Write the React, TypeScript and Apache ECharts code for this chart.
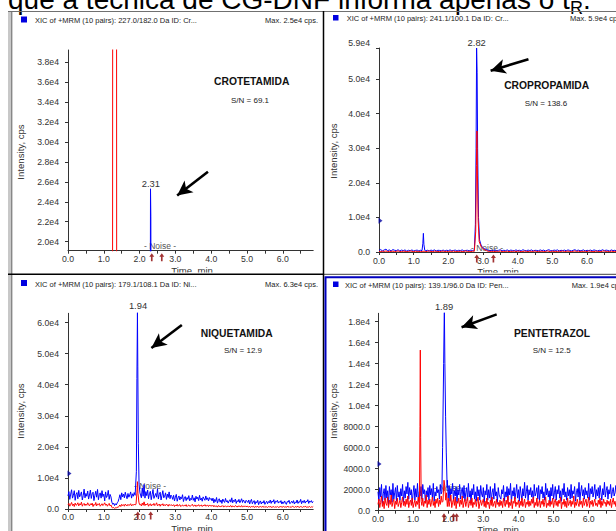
import React, { useEffect, useRef } from 'react';
import * as echarts from 'echarts';

// ---------- data ----------
const STEP_TR = 0.05; // sampling interval of the panel-2 traces (min)
const STEP_FINE = 0.025; // sampling interval of the panel-3/4 traces (min)
const TIME_MAX = 6.85;
const TIME_LABELS = [0, 1, 2, 3, 4, 5, 6];
const TIME_TICKS = [0, 0.5, 1, 1.5, 2, 2.5, 3, 3.5, 4, 4.5, 5, 5.5, 6, 6.5];

// Panel 1 – CROTETAMIDA
const TL_Y_RANGE = [19100, 39200];
const TL_Y_LABELS = [20000, 22000, 24000, 26000, 28000, 30000, 32000, 34000, 36000, 38000];
const TL_BLUE: number[][] = [[0, 2000], [2.29, 2000], [2.297, 11000], [2.305, 25300], [2.314, 22500], [2.322, 10000], [2.36, 2500], [6.85, 2000]];
const TL_RED: number[][] = [[0, 3000], [1.24, 3000], [1.245, 15000], [1.25, 60000], [1.3, 95000], [1.355, 60000], [1.36, 15000], [1.4, 4000], [6.85, 3000]];
const TL_MARKS = [2.34, 2.62];
const TL_ARROW = [[3.91, 27000], [3.05, 24620]];

// Panel 2 – CROPROPAMIDA
const TR_Y_RANGE = [0, 59000];
const TR_Y_LABELS = [0, 10000, 20000, 30000, 40000, 50000, 59000];
const TR_BLUE_NOISE = [
  500, 700, 300, 600, 800, 400, 600, 300, 700, 500, 400, 650, 300, 550, 400, 600, 250, 500, 350, 600, 300, 450, 550, 300, 500,
  400, 600, 350, 500, 300, 550, 400, 600, 300, 500, 450, 350, 550,
  300, 500, 400, 600, 350, 450, 550, 300, 500, 400, 600, 300, 450, 500, 350, 550, 400, 500,
  500, 600, 700, 800, 600, 500, 450, 600, 400, 500,
  400, 600, 300, 500, 650, 350, 500, 400, 600, 300, 550, 450, 350, 600, 400, 500, 300, 650, 450, 350,
  550, 400, 600, 300, 500, 450, 350, 600, 400, 550, 300, 500, 650, 400, 350, 550, 450, 600, 300, 500,
  400, 550, 350, 600, 450, 300, 500, 650, 400, 550, 350, 450, 600, 300, 500, 400, 550, 350, 600, 450,
  300, 500, 400, 650, 350, 550, 450, 300, 600, 400, 500, 350,
];
const TR_RED_NOISE = [
  200, 100, 250, 150, 300, 100, 200, 150, 250, 100, 200, 300, 150, 100, 250, 200, 100, 150, 300, 200, 100, 250, 150, 200, 100,
  150, 250, 100, 200, 300, 150, 100, 250, 200, 150, 100, 200, 250,
  150, 200, 100, 250, 150, 300, 100, 200, 150, 250, 100, 200, 300, 150, 200, 100, 250, 200,
  300, 400, 500, 600, 500, 400, 300, 250, 200, 150,
  200, 100, 250, 150, 300, 100, 200, 150, 250, 100, 200, 150, 300, 100, 250, 200, 100, 150, 250, 200,
  100, 250, 150, 200, 300, 100, 200, 150, 250, 100, 150, 300, 200, 100, 250, 150, 200, 100, 250, 150,
  300, 100, 200, 250, 150, 100, 200, 300, 150, 250, 100, 200, 150, 250, 100, 300, 200, 150, 100, 250,
  200, 150, 100, 250, 300, 150, 200, 100, 250, 150, 200, 100,
];
const TR_BLUE_PEAKS: number[][][] = [
  [[1.24, 400], [1.265, 2500], [1.28, 5400], [1.295, 2200], [1.32, 500]],
  [[2.75, 600], [2.78, 8000], [2.8, 30000], [2.815, 59000], [2.83, 52000], [2.845, 30000], [2.87, 10000], [2.9, 3500], [2.95, 1800], [3.02, 1000], [3.1, 700], [3.15, 500]],
];
const TR_RED_PEAKS: number[][][] = [
  [[2.76, 300], [2.79, 6000], [2.81, 25000], [2.825, 35000], [2.84, 22000], [2.86, 9000], [2.89, 3000], [2.95, 1500], [3.02, 800], [3.1, 400], [3.15, 200]],
];
const TR_MARKS = [2.82, 3.3];
const TR_THRESHOLD = 9050;
const TR_ARROW = [[4.31, 55730], [3.22, 52430]];

// Panel 3 – NIQUETAMIDA
const BL_Y_RANGE = [0, 63000];
const BL_Y_LABELS = [0, 10000, 20000, 30000, 40000, 50000, 60000];
const BL_BLUE_NOISE = [
  4200, 5600, 3100, 4800, 6200, 3500, 4400, 5900, 2800, 4700,
  5300, 3300, 6000, 3900, 4600, 5500, 2900, 4300, 6400, 3600,
  5000, 4100, 5800, 3200, 4500, 6100, 3400, 4900, 5400, 2700,
  4400, 5700, 3800, 6300, 3000, 4600, 5200, 3500, 5900, 4000,
  4800, 2600, 5500, 3700, 4300, 6000, 3100, 4700, 3900,
  2200, 1500, 1900, 1100, 1700, 1300, 2000, 2400,
  3400, 4600, 3000, 5200, 3900, 4800, 3600, 5400, 4200, 3300,
  5000, 3800, 4500, 5500, 3500, 4900, 4100, 5300, 4400,
  4500, 5000, 4800, 5000, 4700,
  5200, 3600, 6800, 4100, 7900, 3500, 5600, 4300, 6100, 3300,
  4900, 5700, 3000, 4600, 6300, 3400, 4200, 5000, 3800, 6500,
  3200, 4700, 5400, 2900, 4400, 5900, 3600, 4100, 5200, 3100,
  4800, 3700, 5500, 3300, 4500, 4000,
  3100, 4400, 2600, 3800, 4700, 2500, 3600, 4200, 2900, 3900,
  3300, 4600, 2400, 3500, 4000, 2700, 3700, 3100, 4300, 2600,
  3400, 3000, 4500, 2800, 3600, 2300, 4100, 3200, 3800, 2700,
  4400, 2900, 3500, 2500, 3900, 3300, 2800, 4200, 3000, 3600,
  2600, 3700, 3100, 3400,
  2600, 3500, 2000, 3100, 2400, 3700, 1900, 2800, 3300, 2200,
  2900, 1800, 3200, 2500, 2100, 3400, 2300, 2700, 1900, 2600,
  3000, 2200, 3600, 2000, 2800, 2400, 3200, 1800, 2700, 2300,
  3100, 2000, 2600, 3300, 2100, 2900, 2400, 1900, 2800, 2500,
  2100, 2900, 1600, 2500, 3100, 1700, 2300, 2700, 1500, 2400,
  2000, 2800, 1400, 2200, 2600, 1600, 2300, 1900, 2700, 1500,
  2100, 2500, 1700, 2400, 2000, 2900, 1800, 2600, 2200, 3000,
  1700, 2500, 2300, 2800, 1900, 2400, 2100, 2700, 1600, 2300,
  1800, 2600, 2000, 1500, 2400, 2200, 2800, 1700, 2100, 2500,
  1900, 2700, 1600, 2300, 2000, 2900, 1800, 2400, 2200, 3100,
  1700, 2600, 2100, 2800, 1900, 2500, 2300, 3000, 1800, 2600,
  2200, 2700, 2000, 2400,
];
const BL_RED_NOISE = [
  1300, 1800, 900, 1500, 2100, 1100, 1600, 800, 1900, 1200,
  1400, 2000, 1000, 1700, 1300, 2200, 900, 1500, 1800, 1100,
  1600, 1200, 2000, 1400, 1000, 1700, 1300, 1900, 800, 1500,
  1200, 2100, 1000, 1600, 1400, 1800, 900, 1300, 1700, 1100,
  1500, 2000, 1200, 1600, 900, 1400, 1800, 1000, 1300,
  600, 300, 500, 200, 400, 300, 600, 500,
  900, 1300, 800, 1500, 1100, 1400, 900, 1600, 1200, 1000,
  1500, 1100, 1300, 1700, 1000, 1400, 1200, 1600, 1300,
  1500, 1400, 1300, 1400, 1500,
  1500, 1000, 1900, 1200, 2300, 1100, 1600, 1300, 1800, 900,
  1400, 1700, 1000, 1500, 1200, 1800, 1100, 1400, 2000, 1000,
  1300, 1600, 900, 1500, 1200, 1700, 1000, 1400, 1100, 1600,
  1300, 900, 1500, 1100, 1400, 1200,
  1100, 1400, 800, 1300, 1000, 1500, 900, 1200, 1400, 800,
  1100, 1300, 900, 1200, 1000, 1400, 800, 1100, 1300, 900,
  1000, 1200, 1500, 900, 1100, 1300, 800, 1200, 1000, 1400,
  900, 1100, 1300, 800, 1200, 1000, 1400, 900, 1100, 1200,
  800, 1300, 1000, 1100,
  900, 1200, 700, 1100, 800, 1000, 600, 1100, 900, 700,
  1000, 800, 1100, 600, 900, 1000, 700, 800, 1000, 700,
  900, 1100, 600, 1000, 800, 700, 1100, 900, 600, 1000,
  800, 900, 700, 1100, 600, 900, 800, 1000, 700, 900,
  800, 600, 900, 500, 800, 700, 900, 500, 700, 800,
  600, 900, 500, 700, 800, 600, 700, 900, 500, 800,
  600, 700, 500, 800, 600, 900, 500, 700, 600, 800,
  500, 700, 600, 800, 500, 700, 600, 900, 500, 700,
  800, 600, 700, 500, 900, 600, 800, 500, 700, 600,
  900, 700, 500, 800, 600, 700, 900, 500, 600, 800,
  700, 500, 800, 600, 900, 700, 500, 700, 600, 800,
  500, 700, 600, 800,
];
const BL_BLUE_PEAKS: number[][][] = [
  [[1.89, 4500], [1.91, 12000], [1.925, 42000], [1.94, 63500], [1.95, 46000], [1.965, 21000], [1.985, 8000], [2.01, 5200]],
];
const BL_RED_PEAKS: number[][][] = [
  [[1.9, 1500], [1.925, 5200], [1.94, 8800], [1.955, 5000], [1.98, 2200], [2.0, 1400]],
];
const BL_MARKS = [1.95, 2.31];
const BL_THRESHOLD = 11400;
const BL_ARROW = [[3.18, 59250], [2.33, 51810]];

// Panel 4 – PENTETRAZOL
const BR_Y_RANGE = [0, 18800];
const BR_Y_LABELS = [0, 2000, 4000, 6000, 8000, 10000, 12000, 14000, 16000, 18000];
const BR_BLUE_NOISE = [
  1800, 900, 2200, 1300, 2500, 700, 1600, 2100, 1000, 2400,
  1200, 1900, 600, 2300, 1500, 2000, 800, 2600, 1100, 1700,
  2200, 900, 2400, 1300, 1800, 1000, 2100, 1400, 2500, 800,
  1900, 1200, 2300, 1600, 2700, 1100, 2200, 1500, 2000, 700,
  1700, 2400, 1000, 2100, 1300, 2600, 900, 1800, 1400, 2300,
  1100, 2500, 1600, 2000, 800, 1900, 1300, 2200, 1000, 2400,
  1500, 2100, 1200, 2600, 900, 1800, 1400, 2300, 1700, 2000,
  1100, 2500, 1600, 2200, 1800, 2000, 1900, 1700, 2100, 2900,
  1200, 2400, 900, 2100, 1600, 2600, 1000, 1900, 1400, 2300,
  800, 2000, 1500, 2500, 1100, 1800, 2200, 1200, 2400, 900,
  1700, 2200, 1000, 2600, 1300, 1900, 700, 2100, 1500, 2500,
  1100, 1800, 900, 2300, 1400, 2000, 1000, 2400, 1600, 1300,
  2200, 800, 1900, 1500, 2500, 1000, 2000, 1200, 2300, 900,
  1700, 2100, 1100, 2600, 1400, 1800, 800, 2200, 1500, 1300,
  1100, 2000, 1600, 2400, 900, 1800, 1300, 2300, 1000, 2100,
  1500, 2600, 800, 1900, 1400, 2200, 1100, 1700, 2500, 1200,
  2000, 900, 2300, 1600, 1000, 2100, 1400, 2700, 1200, 1800,
  2400, 1000, 2000, 1500, 2200, 1300, 1900, 800, 2500, 1400,
  1700, 2200, 1100, 2400, 900, 2000, 1600, 2300, 1200, 1800,
  1000, 2600, 1500, 2100, 1300, 1900, 700, 2200, 1400, 2500,
  1100, 1700, 2300, 1000, 2000, 1600, 2400, 1200, 1900, 900,
  2100, 1500, 2600, 1300, 1800, 1000, 2200, 1400, 2000, 1100,
  2500, 1200, 1900, 1600, 2300, 900, 1700, 2100, 1300, 2700,
  1000, 1800, 2400, 1400, 2000, 1100, 2200, 1500, 1900, 1200,
  2600, 1000, 2100, 1600, 2300, 1300, 1800, 2500, 1100, 2000,
  1400, 2200, 1200, 2400, 1700, 1000, 2100, 1500, 2700, 1300,
  1900, 2300, 1100, 2000, 1600, 2500, 1200, 1800, 2200, 1400,
  1700, 2400, 1300, 2000, 1500,
];
const BR_RED_NOISE = [
  600, 1100, 300, 800, 1400, 400, 900, 200, 1200, 700,
  500, 1300, 300, 1000, 600, 1500, 400, 800, 1100, 200,
  900, 600, 1200, 400, 700, 1000, 300, 800, 1300, 500,
  900, 400, 1100, 600, 1400, 300, 800, 1000, 500, 1200,
  300, 700, 1000, 400, 900, 600, 1300, 200, 800, 1100,
  500, 1200, 400, 900, 700, 1500, 300, 1000, 600, 1100,
  400, 800, 1300, 500, 900, 300, 1100, 700, 1200, 400,
  1000, 600, 1400, 800, 900, 1000, 800, 1200, 1700, 400,
  1200, 400, 900, 1500, 300, 800, 1100, 500, 1300, 200,
  900, 700, 1200, 400, 1000, 600, 1400, 300, 800, 1100,
  400, 900, 1300, 300, 700, 1000, 500, 1200, 300, 800,
  600, 1100, 400, 900, 1300, 200, 700, 1000, 500, 800,
  1100, 400, 900, 300, 1200, 600, 800, 200, 1000, 500,
  1300, 400, 700, 900, 300, 1100, 600, 800, 400, 1000,
  500, 900, 300, 1200, 700, 400, 1000, 600, 1400, 300,
  800, 500, 1100, 200, 900, 700, 1300, 400, 800, 600,
  1000, 300, 900, 500, 1200, 400, 700, 1100, 300, 800,
  600, 1000, 400, 900, 500, 1100, 700, 1300, 300, 800,
  500, 1200, 400, 700, 1000, 300, 900, 600, 1100, 400,
  800, 1300, 300, 700, 500, 1000, 400, 900, 600, 1200,
  300, 800, 1100, 500, 900, 400, 1000, 700, 1300, 200,
  800, 600, 1100, 400, 900, 300, 1200, 500, 700, 1000,
  400, 900, 600, 1400, 300, 800, 500, 1100, 700, 400,
  1000, 600, 900, 300, 1200, 500, 800, 1100, 400, 700,
  1300, 300, 900, 600, 1000, 400, 800, 1100, 500, 700,
  400, 1000, 600, 1200, 300, 900, 500, 1100, 700, 800,
  400, 1000, 600, 900, 500, 1100, 300, 800, 1200, 600,
  900, 400, 1000, 700, 500,
];
const BR_BLUE_PEAKS: number[][][] = [
  [[1.82, 1800], [1.84, 6000], [1.87, 14000], [1.89, 19500], [1.905, 14000], [1.925, 9000], [1.945, 5500], [1.97, 2200]],
];
const BR_RED_PEAKS: number[][][] = [
  [[1.18, 700], [1.195, 8000], [1.205, 15300], [1.215, 7000], [1.23, 900]],
  [[1.86, 900], [1.88, 2900], [1.9, 2400], [1.93, 1000]],
];
const BR_MARKS = [1.88, 2.15, 2.24];
const BR_THRESHOLD = 4450;
const BR_ARROW = [[3.38, 18700], [2.38, 17480]];

// ---------- helpers ----------
const FONT = '"Liberation Sans", Arial, Helvetica, sans-serif';
const BLUE = '#0000ff';
const RED = '#ff0000';
const AXIS = '#333333';

function buildTrace(noise: number[], step: number, peaks: number[][][]) {
  const pts: number[][] = [];
  noise.forEach((v, i) => {
    const t = i * step;
    const inside = peaks.some((p) => t >= p[0][0] - 1e-9 && t <= p[p.length - 1][0] + 1e-9);
    if (!inside) pts.push([t, v]);
  });
  peaks.forEach((p) => p.forEach((q) => pts.push(q)));
  pts.sort((a, b) => a[0] - b[0]);
  return pts;
}

const fmtY = (v: number) => (v === 0 ? '0.0' : v >= 10000 ? (v / 10000).toFixed(1) + 'e4' : v.toFixed(1));

const LAYOUT = [
  { left: 68, top: 50, width: 245.2, height: 200.7, xMargin: 4, yMargin: 9 },
  { left: 379, top: 48, width: 237.5, height: 204, xMargin: 4, yMargin: 9 },
  { left: 68, top: 313.3, width: 245.2, height: 195.7, xMargin: 3, yMargin: 9 },
  { left: 378, top: 313.3, width: 240.5, height: 197.4, xMargin: 4, yMargin: 8 },
];

const PANELS = [
  { yRange: TL_Y_RANGE, yLabels: TL_Y_LABELS, blue: TL_BLUE, red: TL_RED, marks: TL_MARKS, threshold: null as number | null, arrow: TL_ARROW },
  { yRange: TR_Y_RANGE, yLabels: TR_Y_LABELS, blue: buildTrace(TR_BLUE_NOISE, STEP_TR, TR_BLUE_PEAKS), red: buildTrace(TR_RED_NOISE, STEP_TR, TR_RED_PEAKS), marks: TR_MARKS, threshold: TR_THRESHOLD, arrow: TR_ARROW },
  { yRange: BL_Y_RANGE, yLabels: BL_Y_LABELS, blue: buildTrace(BL_BLUE_NOISE, STEP_FINE, BL_BLUE_PEAKS), red: buildTrace(BL_RED_NOISE, STEP_FINE, BL_RED_PEAKS), marks: BL_MARKS, threshold: BL_THRESHOLD, arrow: BL_ARROW },
  { yRange: BR_Y_RANGE, yLabels: BR_Y_LABELS, blue: buildTrace(BR_BLUE_NOISE, STEP_FINE, BR_BLUE_PEAKS), red: buildTrace(BR_RED_NOISE, STEP_FINE, BR_RED_PEAKS), marks: BR_MARKS, threshold: BR_THRESHOLD, arrow: BR_ARROW },
];

function txt(x: number, y: number, text: string, fontSize: number, extra: any = {}, el: any = {}) {
  return {
    type: 'text', x, y, z: 1, silent: true, ...el,
    style: { text, fontSize, fontFamily: FONT, fill: '#222', align: 'center', verticalAlign: 'middle', ...extra },
  };
}
function hline(x1: number, x2: number, y: number, stroke: string, w = 1, z = 50) {
  return { type: 'line', z, silent: true, shape: { x1, y1: y, x2, y2: y }, style: { stroke, lineWidth: w } };
}
function vline(x: number, y1: number, y2: number, stroke: string, w = 1, z = 50) {
  return { type: 'line', z, silent: true, shape: { x1: x, y1, x2: x, y2 }, style: { stroke, lineWidth: w } };
}
function rect(x: number, y: number, width: number, height: number, style: any, z = 50) {
  return { type: 'rect', z, silent: true, shape: { x, y, width, height }, style };
}

function buildOption() {
  const grid = LAYOUT.map((l) => ({ left: l.left, top: l.top, width: l.width, height: l.height, containLabel: false, outerBoundsMode: 'none' }));
  const xAxis = LAYOUT.map((l, i) => ({
    type: 'value', gridIndex: i, min: 0, max: TIME_MAX,
    axisLine: { show: true, onZero: false, lineStyle: { color: AXIS, width: 1 } },
    axisTick: { show: true, length: 3, customValues: TIME_TICKS, lineStyle: { color: AXIS } },
    axisLabel: { customValues: TIME_LABELS, formatter: (v: number) => v.toFixed(1), fontSize: 8.7, color: AXIS, margin: l.xMargin, fontFamily: FONT },
    splitLine: { show: false },
  }));
  const yAxis = LAYOUT.map((l, i) => ({
    type: 'value', gridIndex: i, min: PANELS[i].yRange[0], max: PANELS[i].yRange[1],
    axisLine: { show: true, onZero: false, lineStyle: { color: AXIS, width: 1 } },
    axisTick: { show: true, length: 3, customValues: PANELS[i].yLabels, lineStyle: { color: AXIS } },
    axisLabel: {
      customValues: PANELS[i].yLabels,
      formatter: (v: number) => (i === 1 && v === 59000 ? '{t|' + fmtY(v) + '}' : fmtY(v)),
      rich: { t: { fontSize: 8.7, color: AXIS, fontFamily: FONT, padding: [0, 0, 10, 0] } },
      fontSize: 8.7, color: AXIS, margin: l.yMargin, fontFamily: FONT,
    },
    splitLine: { show: false },
  }));

  const series: any[] = [];
  PANELS.forEach((p, i) => {
    series.push({
      type: 'line', xAxisIndex: i, yAxisIndex: i, data: p.blue, showSymbol: false, symbol: 'none',
      lineStyle: { color: BLUE, width: 1 }, itemStyle: { color: BLUE }, z: 2, silent: true, animation: false,
    });
    series.push({
      type: 'line', xAxisIndex: i, yAxisIndex: i, data: p.red, showSymbol: false, symbol: 'none',
      lineStyle: { color: RED, width: 1 }, itemStyle: { color: RED }, z: 3, silent: true, animation: false,
    });
    series.push({
      type: 'scatter', xAxisIndex: i, yAxisIndex: i, clip: false, silent: true, z: 4,
      data: p.marks.map((t) => [t, p.yRange[0]]),
      symbol: 'path://M3,0L6,4L4,4L4,9L2,9L2,4L0,4Z', symbolSize: [5, 8], symbolOffset: [0, 6.5],
      itemStyle: { color: '#8b0000' },
    });
    if (p.threshold !== null) {
      series.push({
        type: 'scatter', xAxisIndex: i, yAxisIndex: i, clip: false, silent: true, z: 4,
        data: [[0, p.threshold]],
        symbol: 'path://M0,0L8,5L0,10Z', symbolSize: [4, 6], symbolOffset: [1.5, 0],
        itemStyle: { color: '#0000a0' },
      });
    }
    series.push({
      type: 'line', xAxisIndex: i, yAxisIndex: i, data: [], clip: false, silent: true, z: 5,
      color: '#000000', itemStyle: { color: '#000000' }, lineStyle: { color: '#000000' },
      markLine: {
        silent: true, animation: false, symbol: ['none', 'arrow'], symbolSize: 14,
        label: { show: false }, emphasis: { disabled: true },
        itemStyle: { color: '#000000' },
        lineStyle: { color: '#000000', width: 2.6, type: 'solid' },
        data: [[
          { coord: p.arrow[0], symbol: 'none' },
          { coord: p.arrow[1], symbol: 'arrow', symbolSize: [11, 15], itemStyle: { color: '#000000' } },
        ]],
      },
    });
  });

  const hdr = { fontSize: 7.5, fill: '#222' };
  const graphic: any[] = [
    // caption above the figure (cut by the page top)
    txt(8, -0.2, 'que a técnica de CG-DNF informa apenas o t', 28, { align: 'left', fill: '#000' }),
    txt(570, 7.8, 'R', 18, { align: 'left', fill: '#000' }),
    txt(583, -0.2, '.', 28, { align: 'left', fill: '#000' }),

    // headers
    rect(21, 16.5, 6, 6, { fill: '#0000e0' }, 5),
    txt(35, 20.5, 'XIC of +MRM (10 pairs): 227.0/182.0 Da ID: Cr...', 7.5, { align: 'left', ...hdr }),
    txt(318, 20.5, 'Max. 2.5e4 cps.', 7.5, { align: 'right', ...hdr }),
    rect(333, 15, 5.5, 5.5, { fill: '#0000e0' }, 5),
    txt(346.7, 18.3, 'XIC of +MRM (10 pairs): 241.1/100.1 Da ID: Cr...', 7.5, { align: 'left', ...hdr }),
    txt(570, 18.3, 'Max. 5.9e4 cps.', 7.5, { align: 'left', ...hdr }),
    rect(21, 280, 6, 6, { fill: '#0000e0' }, 5),
    txt(35, 284, 'XIC of +MRM (10 pairs): 179.1/108.1 Da ID: Ni...', 7.5, { align: 'left', ...hdr }),
    txt(318, 284, 'Max. 6.3e4 cps.', 7.5, { align: 'right', ...hdr }),
    rect(333, 281.5, 5.5, 5.5, { fill: '#0000e0' }, 5),
    txt(345, 285, 'XIC of +MRM (10 pairs): 139.1/96.0 Da ID: Pen...', 7.5, { align: 'left', ...hdr }),
    txt(571.7, 285, 'Max. 1.9e4 cps.', 7.5, { align: 'left', ...hdr }),

    // axis titles
    txt(20, 152, 'Intensity, cps', 9.6, { fill: '#333' }, { rotation: Math.PI / 2 }),
    txt(333.5, 151, 'Intensity, cps', 9.6, { fill: '#333' }, { rotation: Math.PI / 2 }),
    txt(20, 411, 'Intensity, cps', 9.6, { fill: '#333' }, { rotation: Math.PI / 2 }),
    txt(333.5, 411, 'Intensity, cps', 9.6, { fill: '#333' }, { rotation: Math.PI / 2 }),
    txt(192, 270, 'Time, min', 9.6, { fill: '#333' }),
    txt(498, 271.7, 'Time, min', 9.6, { fill: '#333' }),
    txt(192, 528, 'Time, min', 9.6, { fill: '#333' }),
    txt(498, 529, 'Time, min', 9.6, { fill: '#333' }),

    // compound names and S/N
    txt(251.7, 81.7, 'CROTETAMIDA', 10.3, { fontWeight: 'bold', fill: '#111' }),
    txt(250, 100, 'S/N = 69.1', 8, { fill: '#222' }),
    txt(546.7, 85, 'CROPROPAMIDA', 10.3, { fontWeight: 'bold', fill: '#111' }),
    txt(546, 103, 'S/N = 138.6', 8, { fill: '#222' }),
    txt(236.7, 333, 'NIQUETAMIDA', 10.3, { fontWeight: 'bold', fill: '#111' }),
    txt(243, 350, 'S/N = 12.9', 8, { fill: '#222' }),
    txt(552, 333.3, 'PENTETRAZOL', 10.3, { fontWeight: 'bold', fill: '#111' }),
    txt(551.7, 350, 'S/N = 12.5', 8, { fill: '#222' }),

    // peak retention-time labels
    txt(150.8, 183.3, '2.31', 9.4, { fill: '#333' }),
    txt(476.7, 42.7, '2.82', 9.4, { fill: '#333' }),
    txt(138, 305.7, '1.94', 9.4, { fill: '#333' }),
    txt(444, 306.7, '1.89', 9.4, { fill: '#333' }),

    // noise labels
    txt(160, 246, '- Noise -', 8.5, { fill: '#555' }),
    txt(487, 248, '- Noise -', 8.5, { fill: '#555' }),
    txt(150, 486, '- Noise -', 8.5, { fill: '#555' }),
    txt(450, 488, '- Noise -', 8.5, { fill: '#555' }),

    // window frames
    rect(8, 11, 3.5, 520, { fill: '#c8c8c8' }, 50),
    vline(11.8, 11, 531, '#606060', 1),
    hline(8, 616, 11.5, '#707070', 1),
    rect(12, 272.6, 604, 4, { fill: '#ffffff' }, 49),
    hline(8, 323.5, 274.3, '#000000', 1.5),
    hline(323.5, 616, 274.3, '#404040', 1),
    vline(323.5, 11, 531, '#000000', 1.5),
    rect(325.5, 277.3, 300, 260, { fill: 'none', stroke: '#0000c0', lineWidth: 2 }, 50),
  ];

  return {
    animation: false,
    backgroundColor: '#ffffff',
    textStyle: { fontFamily: FONT },
    grid, xAxis, yAxis, series, graphic,
  };
}

export default function App() {
  const ref = useRef<HTMLDivElement>(null);
  useEffect(() => {
    document.body.style.margin = '0';
    const chart = echarts.init(ref.current as HTMLDivElement, null, { renderer: 'svg' });
    chart.setOption(buildOption() as any);
    return () => chart.dispose();
  }, []);
  return <div ref={ref} style={{ width: 616, height: 531 }} />;
}
